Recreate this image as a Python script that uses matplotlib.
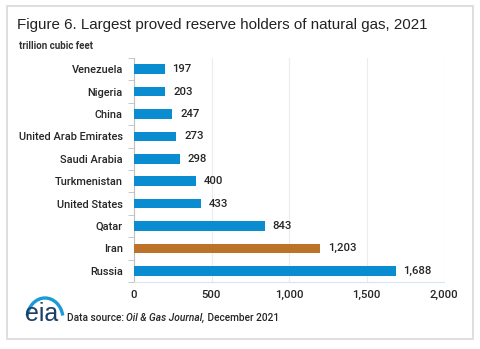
import numpy as np
import matplotlib
matplotlib.use('Agg')
import matplotlib.pyplot as plt
from matplotlib.patches import Rectangle, Arc

plt.rcParams['font.family'] = ['Roboto', 'Liberation Sans', 'DejaVu Sans']

countries = ['Venezuela', 'Nigeria', 'China', 'United Arab Emirates', 'Saudi Arabia',
             'Turkmenistan', 'United States', 'Qatar', 'Iran', 'Russia']
reserves = [197, 203, 247, 273, 298, 400, 433, 843, 1203, 1688]
highlight = 'Iran'
x_ticks = [0, 500, 1000, 1500, 2000]

blue = '#0A8DD0'
orange = '#BD7229'
text_col = '#262626'
wt = 'medium'

fig = plt.figure(figsize=(4.8, 3.49), dpi=100)
fig.patch.set_facecolor('white')

# light frame around the whole graphic
fig.patches.append(Rectangle((7 / 480, 1 - 339 / 349), 466 / 480, 333 / 349,
                             transform=fig.transFigure, fill=False,
                             edgecolor='#d9d9d9', linewidth=1.2))

ax = fig.add_axes([134 / 480, 1 - 282 / 349, 310 / 480, 224 / 349])

y = np.arange(len(countries))
colors = [orange if c == highlight else blue for c in countries]
ax.barh(y, reserves, height=0.42, color=colors, zorder=3)

for yi, v in zip(y, reserves):
    ax.text(v + 50, yi, f'{v:,}', va='center', ha='left', fontsize=8.2,
            color=text_col, fontweight=wt)

ax.set_ylim(len(countries) - 0.5, -0.5)
ax.set_xlim(0, 2000)
ax.set_xticks(x_ticks)
ax.set_xticklabels([f'{t:,}' for t in x_ticks], fontsize=8.2, color=text_col,
                   fontweight=wt)
ax.set_yticks(y)
ax.set_yticklabels(countries, fontsize=7.9, color=text_col, fontweight=wt)
ax.set_yticks(np.arange(len(countries) + 1) - 0.5, minor=True)

ax.tick_params(axis='y', which='major', length=0, pad=8)
ax.tick_params(axis='y', which='minor', length=4, color='#bfbfbf', direction='out')
ax.tick_params(axis='x', length=0, pad=6)

ax.grid(axis='x', color='#ececec', linewidth=0.8, zorder=0)
for s in ['top', 'right']:
    ax.spines[s].set_visible(False)
ax.spines['left'].set_color('#bfbfbf')
ax.spines['bottom'].set_color('#d6e6f0')

fig.text(17 / 480, 1 - 25 / 349, 'Figure 6. Largest proved reserve holders of natural gas, 2021',
         fontsize=10.9, color='#222222', va='center', ha='left',
         family=['Liberation Sans', 'DejaVu Sans'])
fig.text(19 / 480, 1 - 46 / 349, 'trillion cubic feet', fontsize=7, color='#333333',
         fontweight='bold', va='center', ha='left')

# eia logo
fig.text(25 / 480, 1 - 321 / 349, 'eia', fontsize=18, color='#1c3f66', va='baseline',
         ha='left', family=['Liberation Sans', 'DejaVu Sans'])
fig.patches.append(Arc((45 / 480, 1 - 319 / 349), 36 / 480, 42 / 349, theta1=15, theta2=165,
                       transform=fig.transFigure, color='#1a9ad6', linewidth=2.4))

# source line, pieces placed one after another
fig.canvas.draw()
renderer = fig.canvas.get_renderer()
x0 = 67
pieces = [('Data source: ', 'normal'), ('Oil & Gas Journal,', 'italic'),
          (' December 2021', 'normal')]
for txt, style in pieces:
    t = fig.text(x0 / 480, 1 - 318 / 349, txt, fontsize=7.3, color=text_col,
                 fontstyle=style, fontweight=wt, va='center', ha='left')
    bb = t.get_window_extent(renderer)
    x0 += bb.width

fig.savefig('out.png', dpi=100)
